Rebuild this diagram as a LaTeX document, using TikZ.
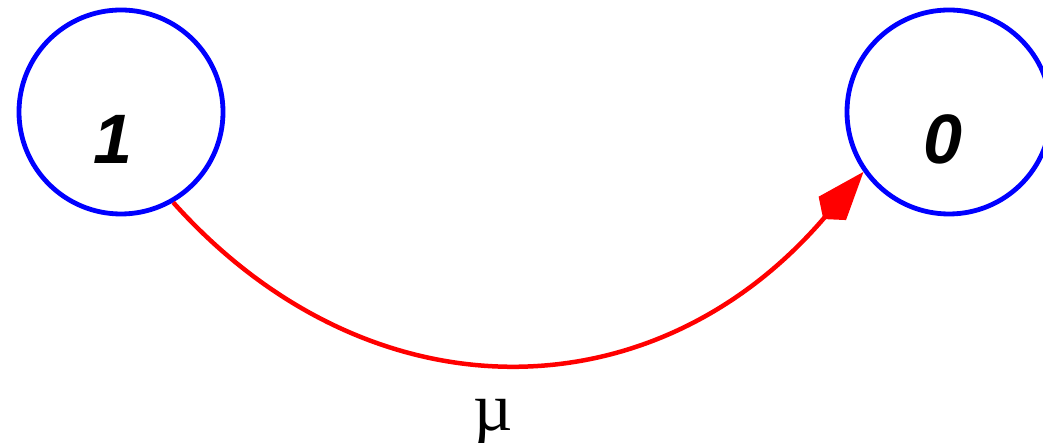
\documentclass[tikz,border=0pt]{standalone}
\usepackage{fontspec}
\setmainfont{Liberation Sans}
\newfontfamily\serifmu{Liberation Serif}
\usetikzlibrary{arrows.meta,calc}
\begin{document}
\begin{tikzpicture}[x=1pt,y=1pt,
  state/.style={circle,draw=blue,line width=4.8pt,minimum size=204pt,inner sep=0pt},
  digit/.style={font=\fontsize{70}{70}\selectfont\bfseries\itshape,inner sep=0pt},
  trans/.style={draw=red,line width=4.5pt,-{Kite[length=62pt,width=36pt,inset=14pt]}}]
\clip (0,0) rectangle (1043,443);
\useasboundingbox (0,0) rectangle (1043,443);
\node[state] (n1) at (121,331) {};
\node[state] (n0) at (949,331) {};
\node[digit] (t1) at ($(n1.center)+(-8,-27)$) {1};
\node[digit] (t0) at ($(n0.center)+(-6,-27)$) {0};
\draw[trans] (n1.-60) .. controls +(195,-218) and +(-210,-246) .. (n0.-145);
\node[font=\fontsize{68}{68}\serifmu,inner sep=0pt] (mu) at (493,21) {µ};
\end{tikzpicture}
\end{document}
